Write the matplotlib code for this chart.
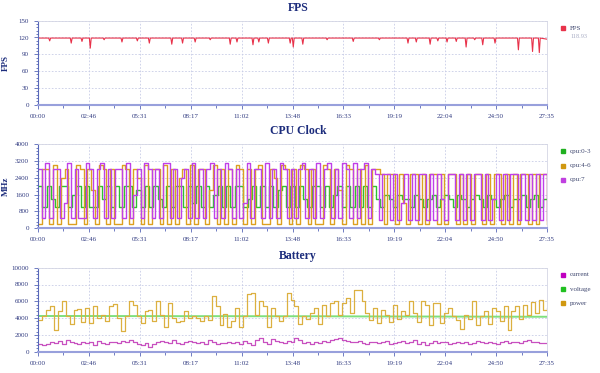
import numpy as np
import matplotlib
matplotlib.use("Agg")
import matplotlib.pyplot as plt
from matplotlib.ticker import AutoMinorLocator, MultipleLocator
from matplotlib.lines import Line2D

# 时间轴（秒）
duration = 1655
time_labels = ["00:00", "02:46", "05:31", "08:17", "11:02", "13:48",
               "16:33", "19:19", "22:04", "24:50", "27:35"]

# FPS：基线 + 掉帧点
fps_base = 119
fps_end = 117
fps_avg = "118.93"
fps_dip_time = [38, 108, 143, 170, 215, 273, 323, 362, 435, 470, 511, 560, 625, 647,
                699, 718, 749, 820, 830, 861, 940, 1025, 1110, 1203, 1230, 1275, 1300,
                1330, 1360, 1392, 1420, 1446, 1486, 1562, 1608, 1630]
fps_dip_value = [114, 110, 113, 101, 116, 112, 114, 110, 108, 110, 112, 116, 108, 112,
                 107, 112, 110, 110, 103, 108, 116, 113, 116, 110, 112, 108, 114,
                 112, 113, 103, 116, 107, 110, 98, 95, 93]

# CPU 频率 (MHz)
cpu_03 = [
    2000, 1000, 2000, 1400, 1000, 2000, 2000, 1000, 1600, 2000,
    1000, 2000, 1000, 1000, 2000, 1400, 2000, 1000, 2000, 1000,
    2000, 2000, 1000, 1800, 1000, 2000, 1000, 2000, 1400, 1000,
    2000, 1000, 2000, 2000, 1000, 2000, 1200, 2000, 1000, 2000,
    1000, 1600, 2000, 1000, 2000, 1000, 2000, 2000, 1000, 1400,
    2000, 1000, 2000, 1000, 2000, 1000, 1800, 2000, 1000, 2000,
    1000, 2000, 1400, 1000, 2000, 2000, 1000, 2000, 1000, 1600,
    2000, 1000, 2000, 1000, 2000, 1000, 2000, 1000, 2000,
    1400, 1000, 1600, 1400, 1000, 1600, 1400, 1400, 1000, 1600,
    1400, 1000, 1400, 1600, 1000, 1400, 1600, 1400, 1000, 1600,
    1400, 1000, 1400, 1600, 1400, 1000, 1600, 1400, 1000, 1400,
    1600, 1000, 1400, 1400, 1600, 1000, 1400, 1600, 1000, 1400,
    1400]
cpu_46 = [
    200, 2800, 2800, 200, 3000, 200, 2400, 2800, 200, 200,
    3000, 2800, 200, 2800, 1800, 200, 3000, 2800, 200, 2800,
    200, 200, 3000, 2800, 200, 2800, 2400, 200, 3000, 200,
    2800, 2800, 200, 3000, 200, 2800, 200, 2400, 2800, 200,
    3000, 200, 2800, 2800, 200, 1800, 3000, 200, 2800, 200,
    2800, 200, 3000, 2800, 200, 2800, 200, 2800, 3000, 200,
    200, 2800, 2400, 200, 3000, 2800, 200, 2800, 200, 3000,
    2800, 200, 2800, 200, 200, 3000, 2800, 200, 2800, 1800,
    200, 3000, 2800, 200, 2800, 200, 3000, 200, 2800, 2800,
    2600, 200, 2600, 2600, 200, 2600, 1200, 200, 2600, 2600,
    200, 2600, 200, 2600, 2600, 200, 2600, 200, 2600, 2600,
    200, 2600, 200, 2600, 200, 2600, 2600, 200, 2600, 200,
    2600, 2600, 200, 2600, 200, 2600, 200, 2600, 2600, 200,
    2600, 200, 2600, 2600, 200]
cpu_7 = [
    2800, 500, 3100, 500, 2800, 2800, 500, 1200, 3100, 500,
    2800, 500, 500, 3100, 2800, 500, 2800, 3100, 500, 2800,
    500, 2800, 2800, 500, 3100, 500, 1600, 2800, 500, 3100,
    2800, 500, 2800, 500, 3100, 3100, 500, 2800, 500, 2400,
    2800, 500, 3100, 500, 2800, 500, 2800, 3100, 500, 2800,
    500, 3100, 2800, 500, 2800, 500, 1200, 3100, 500, 2800,
    2800, 500, 3100, 500, 2800, 500, 3100, 2800, 500, 2800,
    500, 2800, 3100, 500, 2800, 500, 3100, 500, 2800, 3100,
    500, 2800, 500, 3100, 2800, 500, 3100, 500, 2800, 3100,
    500, 2800,
    2600, 400, 2600, 2600, 400, 2600, 400, 1200, 2600, 400,
    2600, 400, 2600, 2600, 400, 2600, 400, 2600, 1400, 400,
    2600, 2600, 400, 2600, 400, 2600, 400, 2600, 2600, 400,
    2600, 400, 1400, 2600, 400, 2600, 400, 2600, 2600, 400,
    2600, 400, 2600, 400, 2600, 400, 2600, 400]

# 电池
current = [
    900, 850, 950, 1100, 1000, 1300, 900, 1400, 1100, 1000,
    900, 1200, 1000, 1100, 800, 1300, 1000, 900, 1200, 1100,
    1000, 1300, 1200, 1400, 1100, 900, 800, 1000, 600, 900,
    1100, 1300, 1200, 1000, 1400, 1000, 900, 1200, 1300, 1100,
    1000, 1200, 900, 1400, 1100, 900, 1000, 1000, 1100, 1000,
    1200, 900, 1300, 1000, 800, 1400, 1600, 1200, 900, 1500,
    1300, 1100, 1000, 1300, 1200, 1600, 1400, 1000, 1100, 900,
    1100, 1000, 1300, 1200, 1400, 1500, 1600, 1400, 1300, 1200,
    1100, 1300, 1000, 900, 1200, 1100, 1000, 1200, 1300, 900,
    1000, 1100, 1300, 1000, 1200, 1400, 900, 1100, 800, 1000,
    1300, 1000, 1100, 1200, 900, 1000, 1100, 1000, 1200, 900,
    1000, 1300, 1100, 1000, 1200, 1000, 900, 1100, 1300, 1000,
    1200, 1100, 1000, 1300, 1400, 1200, 1100, 1000, 1000, 1000]
voltage = [4250, 4250, 4240, 4230, 4230, 4220, 4220, 4200, 4190, 4180, 4170, 4160]
power = [
    3800, 4300, 5000, 5400, 2600, 4800, 6000, 4200, 3300, 5000,
    5100, 3500, 5200, 3400, 5400, 4000, 4400, 3700, 5500, 5700,
    4000, 2500, 4200, 6000, 5600, 4300, 3400, 4800, 5000, 3600,
    6000, 4400, 3000, 5800, 4000, 3500, 3700, 4800, 4000, 4200,
    4000, 3600, 4300, 3800, 6600, 5400, 3200, 4500, 2900, 3600,
    5200, 3000, 4300, 6900, 7000, 4400, 6000, 5400, 3000, 5200,
    4300, 3600, 4200, 7000, 6200, 5400, 3300, 4200, 3900, 4600,
    5200, 3300, 5600, 4200, 5800, 6000, 4400, 5800, 6400, 4600,
    7300, 7300, 6000, 4600, 3800, 5200, 3400, 5000, 4400, 3500,
    5600, 3900, 4800, 4400, 6000, 4600, 3500, 6000, 5600, 3200,
    5800, 5800, 3400, 4600, 5200, 4200, 3800, 2700, 4400, 3900,
    6000, 3200, 4200, 4800, 3300, 5200, 4800, 3600, 5400, 2600,
    4800, 5400, 3900, 5600, 4400, 5900, 4600, 6200, 5000, 5200]

TITLE_C = "#1c2c7c"
TICK_C = "#303a80"
AXIS_C = "#5868b8"
GRID_C = "#c8cce6"
SERIF = "Liberation Serif"

fig = plt.figure(figsize=(6, 3.73), dpi=100)


def make_axes(top_px, ymax, ystep, ylabel):
    bottom = 1 - (top_px + 84) / 373
    ax = fig.add_axes([38 / 600, bottom, 509 / 600, 84 / 373])
    ax.set_xlim(0, duration)
    ax.set_ylim(0, ymax)
    ax.set_xticks(np.linspace(0, duration, len(time_labels)))
    ax.set_xticklabels(time_labels)
    ax.xaxis.set_minor_locator(AutoMinorLocator(2))
    ax.yaxis.set_major_locator(MultipleLocator(ystep))
    ax.yaxis.set_minor_locator(AutoMinorLocator(5))
    ax.tick_params(which="both", colors=AXIS_C, labelcolor=TICK_C, labelsize=5,
                   width=0.6, direction="out")
    ax.tick_params(which="major", length=3)
    ax.tick_params(which="minor", length=1.8)
    for lab in ax.get_xticklabels() + ax.get_yticklabels():
        lab.set_family(SERIF)
    ax.grid(True, which="major", color=GRID_C, linestyle=(0, (2, 2)), linewidth=0.6)
    ax.set_axisbelow(True)
    ax.spines["left"].set_color(AXIS_C)
    ax.spines["left"].set_linewidth(0.8)
    ax.spines["bottom"].set_color("#98a0dc")
    ax.spines["bottom"].set_linewidth(1.5)
    for s in ("top", "right"):
        ax.spines[s].set_color("#d4d6e4")
        ax.spines[s].set_linewidth(0.6)
    if ylabel:
        ax.set_ylabel(ylabel, fontsize=6.5, fontweight="bold", color=TITLE_C, family=SERIF)
        ax.yaxis.set_label_coords(-0.055, 0.5)
    return ax


def title(y_px, text):
    fig.text(0.497, 1 - y_px / 373, text, ha="center", va="center", fontsize=8.5,
             fontweight="bold", color=TITLE_C, family=SERIF)


def legend_entry(y_px, color, label):
    y = 1 - y_px / 373
    fig.add_artist(Line2D([563 / 600], [y], marker="s", markersize=3.3, color=color,
                          linestyle="none", transform=fig.transFigure))
    fig.text(570 / 600, y, label, fontsize=5, va="center", color="#404870", family=SERIF)


# ---- FPS ----
fps_t = [0]
fps_v = [fps_base]
for t, v in zip(fps_dip_time, fps_dip_value):
    fps_t += [t - 3, t, t + 3]
    fps_v += [fps_base, v, fps_base]
fps_t.append(duration)
fps_v.append(fps_end)

ax1 = make_axes(20.7, 150, 30, "FPS")
ax1.plot(fps_t, fps_v, color="#e8324a", linewidth=0.8)
title(8, "FPS")
legend_entry(28, "#e8324a", "FPS")
fig.text(570 / 600, 1 - 37 / 373, fps_avg, fontsize=4.5, va="center", color="#a8acc4",
         family=SERIF)

# ---- CPU ----
ax2 = make_axes(144.3, 4000, 800, "MHz")
ax2.plot(np.linspace(0, duration, len(cpu_03)), cpu_03, drawstyle="steps-post",
         color="#30c030", linewidth=1.0)
ax2.plot(np.linspace(0, duration, len(cpu_46)), cpu_46, drawstyle="steps-post",
         color="#dca020", linewidth=1.0)
ax2.plot(np.linspace(0, duration, len(cpu_7)), cpu_7, drawstyle="steps-post",
         color="#c040e8", linewidth=1.0)
title(131, "CPU Clock")
legend_entry(151, "#20b020", "cpu:0-3")
legend_entry(165.7, "#d09810", "cpu:4-6")
legend_entry(180, "#c040e0", "cpu:7")

# ---- Battery ----
ax3 = make_axes(267.7, 10000, 2000, None)
ax3.plot(np.linspace(0, duration, len(voltage)), voltage, color="#7ee07e", linewidth=1.4)
ax3.plot(np.linspace(0, duration, len(power)), power, drawstyle="steps-post",
         color="#dcb040", linewidth=0.9)
ax3.plot(np.linspace(0, duration, len(current)), current, drawstyle="steps-post",
         color="#c850c0", linewidth=0.9)
title(256, "Battery")
legend_entry(275, "#c000c0", "current")
legend_entry(289, "#20c020", "voltage")
legend_entry(303, "#d09810", "power")

fig.savefig("out.png", dpi=100)
